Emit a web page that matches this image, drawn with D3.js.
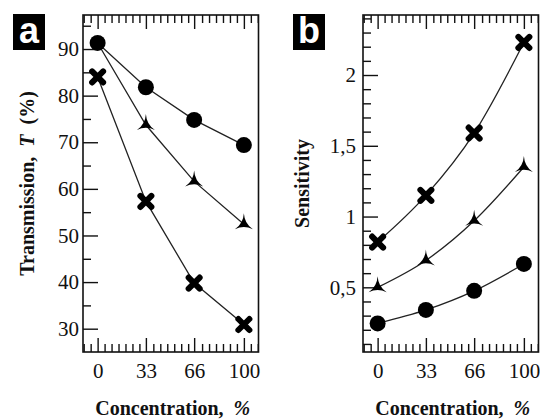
<!DOCTYPE html>
<html lang="en">
    <head>
        <meta charset="utf-8" />
        <title>Transmission and sensitivity</title>
        <script src="https://cdn.jsdelivr.net/npm/d3@7"></script>
        <style type="text/css">
            body { margin: 0; background: #fff; }
            text { white-space: pre; }
            .tick text { font-family: "Liberation Serif", "Times New Roman", serif; font-size: 21px; fill: #111; }
            .tick line { stroke: #111; stroke-width: 1.4px; }
            .title { font-family: "Liberation Serif", "Times New Roman", serif; font-size: 20px; font-weight: bold; fill: #111; }
        </style>
    </head>
    <body>
        <script type="text/javascript">
            // concentration, %
            var conc = [0, 33, 66, 100];
            var concTicks = [0, 33, 66, 100];

            // panel a: transmission T (%)
            var transCircle = [91.3, 81.8, 74.8, 69.4];
            var transStar = [91.3, 73.7, 61.6, 52.4];
            var transCross = [84.0, 57.3, 39.8, 30.9];
            var transTicks = [30, 40, 50, 60, 70, 80, 90];
            var transMinor = [35, 45, 55, 65, 75, 85, 95];

            // panel b: sensitivity
            var sensCross = [0.82, 1.15, 1.59, 2.23];
            var sensStar = [0.5, 0.69, 0.97, 1.35];
            var sensCircle = [0.245, 0.34, 0.475, 0.665];
            var sensTicks = [0.5, 1, 1.5, 2];
            var sensMinor = [0.1, 0.2, 0.3, 0.4, 0.6, 0.7, 0.8, 0.9, 1.1, 1.2, 1.3, 1.4, 1.6, 1.7, 1.8, 1.9, 2.1, 2.2, 2.3, 2.4];

            var w = 540;
            var h = 420;
            var svg = d3.select("body").append("svg")
                .attr("width", w)
                .attr("height", h);

            // minor concentration ticks: 7 per major step
            var concMinor = d3.range(-2, 24).filter(function(k) { return k % 7 !== 0; })
                .map(function(k) { return k * 100 / 21; });

            var starPath = "M0,-11 Q0.6,-0.6 9,5 Q0,0.6 -9,5 Q-0.6,-0.6 0,-11 Z";
            var crossPath = "M-5.5,-5.5 L5.5,5.5 M-5.5,5.5 L5.5,-5.5";

            function drawPanel(opt) {
                var pw = 175.5, ph = 337;
                var g = svg.append("g").attr("transform", "translate(" + opt.left + ",15)");

                var x = d3.scaleLinear().domain([-10, 110]).range([0, pw]);
                var y = d3.scaleLinear().domain(opt.yDomain).range([ph, 0]);

                // ticks (inward)
                g.append("g").attr("transform", "translate(0," + ph + ")")
                    .call(d3.axisBottom(x).tickValues(concTicks).tickSizeInner(-14).tickSizeOuter(0).tickPadding(11));
                g.append("g").attr("transform", "translate(0," + ph + ")")
                    .call(d3.axisBottom(x).tickValues(concMinor).tickSizeInner(-8).tickSizeOuter(0).tickFormat(""));
                g.append("g")
                    .call(d3.axisTop(x).tickValues(concTicks).tickSizeInner(-14).tickSizeOuter(0).tickFormat(""));
                g.append("g")
                    .call(d3.axisTop(x).tickValues(concMinor).tickSizeInner(-8).tickSizeOuter(0).tickFormat(""));
                g.append("g")
                    .call(d3.axisLeft(y).tickValues(opt.yTicks).tickSizeInner(-15).tickSizeOuter(0)
                        .tickPadding(opt.yPad).tickFormat(opt.yFormat));
                g.append("g")
                    .call(d3.axisLeft(y).tickValues(opt.yMinor).tickSizeInner(-8).tickSizeOuter(0).tickFormat(""));
                g.selectAll(".domain").remove();

                g.append("rect")
                    .attr("width", pw)
                    .attr("height", ph)
                    .attr("fill", "none")
                    .attr("stroke", "#111")
                    .attr("stroke-width", 1.6);

                var line = d3.line()
                    .x(function(d, i) { return x(conc[i]); })
                    .y(function(d) { return y(d); })
                    .curve(opt.curve);

                opt.series.forEach(function(s) {
                    g.append("path")
                        .attr("d", line(s.values))
                        .attr("fill", "none")
                        .attr("stroke", "#222")
                        .attr("stroke-width", 1.3);
                });

                opt.series.forEach(function(s) {
                    var pts = s.values.map(function(v, i) { return { x: conc[i], v: v }; }).slice(s.from || 0);
                    var m = g.selectAll(null).data(pts).enter();
                    if (s.shape === "circle") {
                        m.append("circle")
                            .attr("cx", function(d) { return x(d.x); })
                            .attr("cy", function(d) { return y(d.v); })
                            .attr("r", 8)
                            .attr("fill", "#000");
                    } else if (s.shape === "star") {
                        m.append("path")
                            .attr("d", starPath)
                            .attr("transform", function(d) { return "translate(" + x(d.x) + "," + y(d.v) + ")"; })
                            .attr("fill", "#000");
                    } else {
                        m.append("path")
                            .attr("d", crossPath)
                            .attr("transform", function(d) { return "translate(" + x(d.x) + "," + y(d.v) + ")"; })
                            .attr("fill", "none")
                            .attr("stroke", "#000")
                            .attr("stroke-width", 6)
                            .attr("stroke-linecap", "round");
                    }
                });

                // x title
                var xt = g.append("text").attr("class", "title")
                    .attr("x", pw / 2 + 2)
                    .attr("y", 400)
                    .attr("text-anchor", "middle");
                xt.append("tspan").text("Concentration,  ");
                xt.append("tspan").attr("font-style", "italic").text("%");

                // y title
                var yt = g.append("text").attr("class", "title")
                    .attr("transform", "translate(" + opt.yTitleX + "," + ph / 2 + ") rotate(-90)")
                    .attr("text-anchor", "middle");
                opt.yTitle.forEach(function(p) {
                    yt.append("tspan").attr("font-style", p.italic ? "italic" : null).text(p.t);
                });

                // panel letter
                svg.append("rect")
                    .attr("x", opt.left - 70)
                    .attr("y", 14)
                    .attr("width", 32)
                    .attr("height", 36)
                    .attr("fill", "#000");
                svg.append("text")
                    .attr("x", opt.left - 54)
                    .attr("y", 43)
                    .attr("text-anchor", "middle")
                    .attr("font-family", "Liberation Sans, Arial, sans-serif")
                    .attr("font-weight", "bold")
                    .attr("font-size", "36px")
                    .attr("fill", "#fff")
                    .text(opt.letter);
            }

            drawPanel({
                left: 83,
                letter: "a",
                yDomain: [25, 97.3],
                yTicks: transTicks,
                yMinor: transMinor,
                yPad: 4,
                yFormat: d3.format("d"),
                yTitleX: -49,
                yTitle: [{ t: "Transmission,  " }, { t: "T", italic: true }, { t: "  (%)" }],
                curve: d3.curveLinear,
                series: [
                    { values: transCross, shape: "cross" },
                    { values: transStar, shape: "star", from: 1 }, // at 0 % it sits under the circle
                    { values: transCircle, shape: "circle" }
                ]
            });

            drawPanel({
                left: 363,
                letter: "b",
                yDomain: [0.043, 2.424],
                yTicks: sensTicks,
                yMinor: sensMinor,
                yPad: 7,
                yFormat: function(d) { return String(d).replace(".", ","); },
                yTitleX: -54,
                yTitle: [{ t: "Sensitivity" }],
                curve: d3.curveMonotoneX,
                series: [
                    { values: sensCross, shape: "cross" },
                    { values: sensStar, shape: "star" },
                    { values: sensCircle, shape: "circle" }
                ]
            });
        </script>
    </body>
</html>
